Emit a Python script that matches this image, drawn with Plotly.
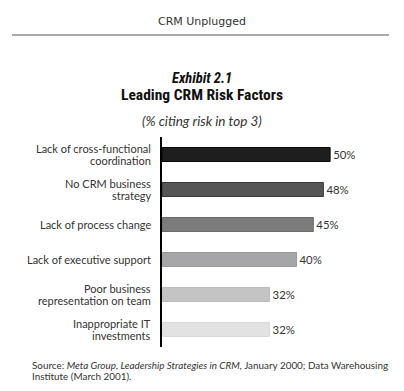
import plotly.graph_objects as go

categories = [
    "Lack of cross-functional<br>coordination",
    "No CRM business<br>strategy",
    "Lack of process change",
    "Lack of executive support",
    "Poor business<br>representation on team",
    "Inappropriate IT<br>investments",
]
values = [50, 48, 45, 40, 32, 32]
value_labels = ["50%", "48%", "45%", "40%", "32%", "32%"]
bar_colors = ["#1e1e1e", "#555555", "#7c7c7c", "#a6a6a8", "#c4c4c4", "#e2e2e2"]
line_colors = ["#0a0a0a", "#3a3a3a", "#6a6a6a", "#999999", "#bbbbbb", "#dadada"]

header = "CRM Unplugged"
exhibit = "Exhibit 2.1"
title = "Leading CRM Risk Factors"
subtitle = "(% citing risk in top 3)"
source_lines = [
    "Source: <i>Meta Group, Leadership Strategies in CRM,</i> January 2000; Data Warehousing",
    "Institute (March 2001).",
]

label_font = "Lato, 'Noto Sans', sans-serif"
title_font = "'Roboto Condensed', 'Liberation Sans Narrow', Roboto, sans-serif"

W, H = 404, 391
L, R, T, B = 162, 10, 137, 44
PW, PH = W - L - R, H - T - B


def px(x):
    return (x - L) / PW


def py(y):
    return (H - B - y) / PH


fig = go.Figure(go.Bar(
    x=values, y=categories, orientation="h",
    marker=dict(color=bar_colors, line=dict(color=line_colors, width=1)),
    width=0.4,
    text=value_labels, textposition="outside", cliponaxis=False,
    textfont=dict(family=label_font, size=13, color="#333333"),
))

# category labels, one annotation per text line for tight line spacing
pitch = 12
label_annots = []
for cat in categories:
    lines = cat.split("<br>")
    n = len(lines)
    for i, line in enumerate(lines):
        label_annots.append(dict(
            text=line, xref="paper", yref="y", x=px(153), y=cat,
            yshift=((n - 1) / 2 - i) * pitch, showarrow=False,
            xanchor="right", yanchor="middle",
            font=dict(family=label_font, size=11, color="#333333")))

source_annots = []
for i, line in enumerate(source_lines):
    source_annots.append(dict(
        text=line, xref="paper", yref="paper", x=px(30), y=py(365 + 11 * i),
        showarrow=False, xanchor="left", yanchor="middle", align="left",
        font=dict(family=label_font, size=9.9, color="#333333")))

fig.update_layout(
    width=W, height=H,
    margin=dict(l=L, r=R, t=T, b=B),
    paper_bgcolor="white", plot_bgcolor="white",
    showlegend=False,
    xaxis=dict(range=[0, 69], visible=False, fixedrange=True),
    yaxis=dict(
        autorange=False, range=[5.5, -0.5],
        showline=True, linecolor="black", linewidth=2,
        showgrid=False, zeroline=False, showticklabels=False, ticks="",
        fixedrange=True,
    ),
    shapes=[dict(type="line", xref="paper", yref="paper",
                 x0=px(12), x1=px(389), y0=py(35), y1=py(35),
                 line=dict(color="#555555", width=1))],
    annotations=label_annots + source_annots + [
        dict(text=header, xref="paper", yref="paper",
             x=px(202), y=py(22), showarrow=False,
             xanchor="center", yanchor="middle",
             font=dict(family="'DejaVu Sans', sans-serif", size=11, color="#333333")),
        dict(text="<b><i>" + exhibit + "</i></b>", xref="paper", yref="paper",
             x=px(202), y=py(78), showarrow=False,
             xanchor="center", yanchor="middle",
             font=dict(family=title_font, size=14.5, color="#111111")),
        dict(text="<b>" + title + "</b>", xref="paper", yref="paper",
             x=px(202), y=py(95), showarrow=False,
             xanchor="center", yanchor="middle",
             font=dict(family=title_font, size=15.5, color="#111111")),
        dict(text="<i>" + subtitle + "</i>", xref="paper", yref="paper",
             x=px(202), y=py(121), showarrow=False,
             xanchor="center", yanchor="middle",
             font=dict(family=label_font, size=13.5, color="#333333")),
    ],
)

fig.write_html("out.html", config={"displayModeBar": False},
               post_script="document.body.style.margin='0';")
